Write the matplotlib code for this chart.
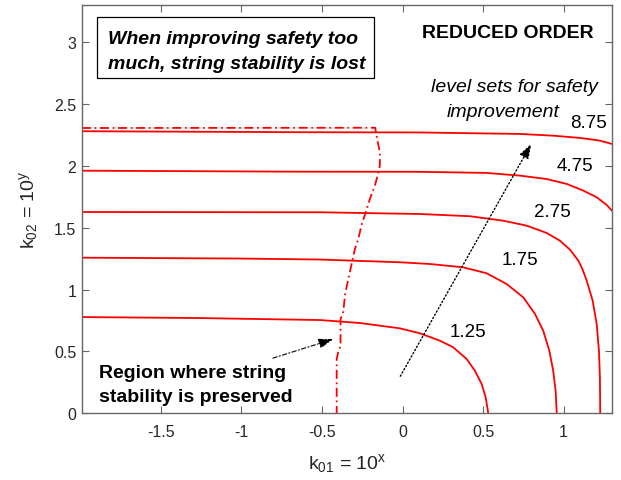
import matplotlib
matplotlib.use('Agg')
import matplotlib.pyplot as plt
from matplotlib.patches import Rectangle
from matplotlib.ticker import FixedLocator, FixedFormatter

plt.rcParams['font.family'] = ['Liberation Sans', 'DejaVu Sans']
plt.rcParams['mathtext.fontset'] = 'custom'
plt.rcParams['mathtext.rm'] = 'Liberation Sans'
plt.rcParams['mathtext.it'] = 'Liberation Sans:italic'
plt.rcParams['mathtext.default'] = 'regular'
plt.rcParams['axes.unicode_minus'] = False

# level set curves (x = log10 k01, y = log10 k02)
lvl_125_x = [-1.99, -1.258, -0.513, -0.265, -0.017, 0.107, 0.232, 0.314, 0.398, 0.449, 0.491, 0.516, 0.532]
lvl_125_y = [0.778, 0.770, 0.754, 0.730, 0.687, 0.647, 0.587, 0.534, 0.439, 0.344, 0.237, 0.129, 0.0]

lvl_175_x = [-1.99, -1.009, -0.513, -0.017, 0.170, 0.376, 0.522, 0.646, 0.749, 0.822, 0.873, 0.911, 0.935, 0.950, 0.957]
lvl_175_y = [1.258, 1.251, 1.243, 1.221, 1.207, 1.180, 1.132, 1.045, 0.938, 0.803, 0.668, 0.506, 0.344, 0.183, 0.0]

lvl_275_x = [-1.99, -0.513, 0.107, 0.418, 0.625, 0.770, 0.894, 0.977, 1.039, 1.091, 1.116, 1.143, 1.180, 1.205, 1.219, 1.225, 1.227]
lvl_275_y = [1.627, 1.625, 1.611, 1.593, 1.557, 1.517, 1.458, 1.395, 1.323, 1.234, 1.167, 1.072, 0.910, 0.722, 0.506, 0.291, 0.0]

lvl_475_x = [-1.99, -0.637, 0.107, 0.522, 0.729, 0.894, 1.019, 1.122, 1.205, 1.267, 1.300]
lvl_475_y = [1.961, 1.953, 1.952, 1.943, 1.921, 1.894, 1.854, 1.800, 1.746, 1.684, 1.638]

lvl_875_x = [-1.99, -0.637, 0.107, 0.729, 0.935, 1.101, 1.225, 1.300]
lvl_875_y = [2.280, 2.272, 2.270, 2.258, 2.244, 2.226, 2.204, 2.177]

# string stability boundary
ss_x = [-1.99, -0.170, -0.158, -0.141, -0.141, -0.152, -0.172, -0.203, -0.228, -0.253, -0.275,
        -0.296, -0.312, -0.330, -0.346, -0.356, -0.369, -0.385, -0.385, -0.400, -0.409, -0.409]
ss_y = [2.306, 2.308, 2.218, 2.110, 2.002, 1.935, 1.840, 1.733, 1.627, 1.530, 1.409,
        1.328, 1.231, 1.126, 1.029, 0.964, 0.817, 0.762, 0.546, 0.493, 0.439, 0.0]

level_labels = ['1.25', '1.75', '2.75', '4.75', '8.75']
label_x = [0.405, 0.729, 0.933, 1.068, 1.157]
label_y = [0.622, 1.205, 1.597, 1.969, 2.311]

x_ticks = [-1.5, -1, -0.5, 0, 0.5, 1]
x_ticklabels = ['-1.5', '-1', '-0.5', '0', '0.5', '1']
y_ticks = [0, 0.5, 1, 1.5, 2, 2.5, 3]
y_ticklabels = ['0', '0.5', '1', '1.5', '2', '2.5', '3']

fig = plt.figure(figsize=(6.21, 4.81), dpi=100)
ax = fig.add_axes([0.132, 0.1386, 0.8535, 0.8489])

red = '#ff0000'
curves = [(lvl_125_x, lvl_125_y), (lvl_175_x, lvl_175_y), (lvl_275_x, lvl_275_y),
          (lvl_475_x, lvl_475_y), (lvl_875_x, lvl_875_y)]
for cx, cy in curves:
    ax.plot(cx, cy, color=red, lw=1.3, solid_joinstyle='round')
ax.plot(ss_x, ss_y, color=red, lw=1.3, linestyle=(0, (5, 2, 1, 2)))

for lab, lx, ly in zip(level_labels, label_x, label_y):
    ax.text(lx, ly, lab, fontsize=13.5, ha='center', va='baseline', color='k')

# annotations
ax.add_patch(Rectangle((-1.894, 2.713), 1.716, 0.488, facecolor='white',
                       edgecolor='k', lw=0.9, zorder=3))
ax.text(-1.829, 2.991, 'When improving safety too', fontsize=14, fontweight='bold',
        style='italic', va='baseline', zorder=4)
ax.text(-1.829, 2.791, 'much, string stability is lost', fontsize=14, fontweight='bold',
        style='italic', va='baseline', zorder=4)
ax.text(0.12, 3.045, 'REDUCED ORDER', fontsize=14, fontweight='bold', va='baseline')
ax.text(0.176, 2.608, 'level sets for safety', fontsize=14, style='italic', va='baseline')
ax.text(0.273, 2.406, 'improvement', fontsize=14, style='italic', va='baseline')
ax.text(-1.886, 0.296, 'Region where string', fontsize=14, fontweight='bold', va='baseline')
ax.text(-1.886, 0.099, 'stability is preserved', fontsize=14, fontweight='bold', va='baseline')

ax.annotate('', xy=(0.80, 2.18), xytext=(-0.014, 0.30),
            arrowprops=dict(arrowstyle='-|>,head_length=0.9,head_width=0.3',
                            linestyle=':', color='k', lw=1.0, shrinkA=0, shrinkB=0))
ax.annotate('', xy=(-0.43, 0.60), xytext=(-0.805, 0.446),
            arrowprops=dict(arrowstyle='-|>,head_length=0.9,head_width=0.3',
                            linestyle=(0, (4, 2, 1, 2)), color='k', lw=0.8,
                            shrinkA=0, shrinkB=0))

ax.set_xlim(-1.99, 1.3)
ax.set_ylim(0, 3.3)
ax.xaxis.set_major_locator(FixedLocator(x_ticks))
ax.xaxis.set_major_formatter(FixedFormatter(x_ticklabels))
ax.yaxis.set_major_locator(FixedLocator(y_ticks))
ax.yaxis.set_major_formatter(FixedFormatter(y_ticklabels))
ax.tick_params(direction='in', length=5, width=0.8, top=True, right=True,
               labelsize=11.5, colors='0.4', labelcolor='0.15', pad=8)
ax.tick_params(axis='y', pad=4)
for sp in ax.spines.values():
    sp.set_color('0.4')
    sp.set_linewidth(1.0)

ax.set_xlabel('k$_{01}$ = 10$^{x}$', fontsize=14, color='0.15', labelpad=8)
ax.set_ylabel('k$_{02}$ = 10$^{y}$', fontsize=14, color='0.15', labelpad=10)

fig.savefig('out.png', dpi=100, facecolor='white')
